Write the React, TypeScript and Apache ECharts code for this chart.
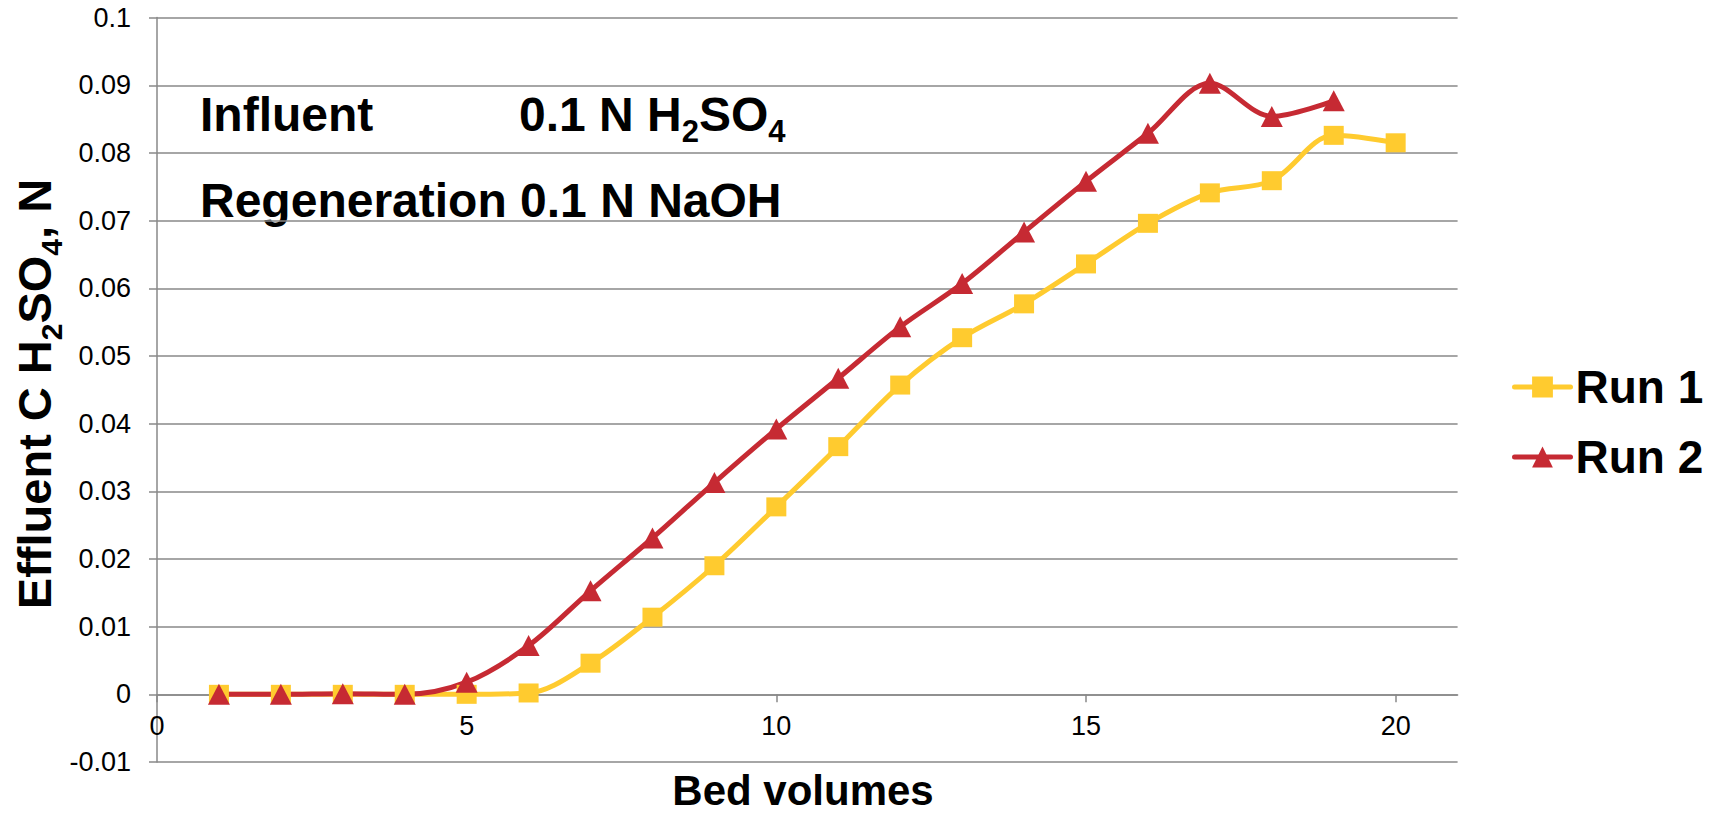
import React, { useEffect, useRef } from 'react';
import * as echarts from 'echarts';

const bedVolumes = [1, 2, 3, 4, 5, 6, 7, 8, 9, 10, 11, 12, 13, 14, 15, 16, 17, 18, 19, 20];
const run1 = [0, 0, 0, 0, 0, 0.0002, 0.0046, 0.0114, 0.019, 0.0277, 0.0366, 0.0457, 0.0527, 0.0577, 0.0636, 0.0696, 0.0741, 0.0759, 0.0826, 0.0815];
const run2 = [0, 0, 0.0001, 0, 0.0018, 0.0072, 0.0153, 0.0231, 0.0313, 0.0392, 0.0467, 0.0543, 0.0607, 0.0683, 0.0758, 0.0829, 0.0903, 0.0854, 0.0877];
const seriesNames = ['Run 1', 'Run 2'];
const xTickValues = [0, 5, 10, 15, 20];
const xAxisTitle = 'Bed volumes';
const yAxisTitle = 'Effluent C H{s|2}SO{s|4}, N';
const noteLabel1 = 'Influent';
const noteValue1 = '0.1 N H{n|2}SO{n|4}';
const noteLine2 = 'Regeneration 0.1 N NaOH';

const FONT = '"Liberation Sans", Arial, sans-serif';
const GRID_GRAY = '#898989';
const YELLOW = '#FFCB2F';
const RED = '#C62A33';

export default function App() {
  const ref = useRef<HTMLDivElement>(null);

  useEffect(() => {
    if (!ref.current) return;
    const chart = echarts.init(ref.current, null, { renderer: 'svg' });
    const subRich = {
      s: { font: `bold 30px ${FONT}`, fill: '#000', lineHeight: 30, verticalAlign: 'bottom' },
      n: { font: `bold 31px ${FONT}`, fill: '#000', lineHeight: 31, verticalAlign: 'bottom' },
    };
    chart.setOption({
      animation: false,
      backgroundColor: '#fff',
      grid: { left: 157, right: 265.4, top: 17.6, bottom: 53, outerBoundsMode: 'none', containLabel: false },
      xAxis: {
        type: 'value',
        min: 0,
        max: 21,
        interval: 5,
        axisLine: { show: true, onZero: true, lineStyle: { color: GRID_GRAY, width: 1.5 } },
        axisTick: { show: true, inside: false, length: 8, customValues: xTickValues, lineStyle: { color: GRID_GRAY, width: 1.5 } },
        axisLabel: { customValues: xTickValues, margin: -50, fontSize: 27, fontFamily: FONT, color: '#000' },
        splitLine: { show: false },
      },
      yAxis: {
        type: 'value',
        min: -0.01,
        max: 0.1,
        interval: 0.01,
        axisLine: { show: true, onZero: false, lineStyle: { color: GRID_GRAY, width: 1.5 } },
        axisTick: { show: true, inside: false, length: 8, lineStyle: { color: GRID_GRAY, width: 1.5 } },
        axisLabel: { margin: 26, fontSize: 27, fontFamily: FONT, color: '#000' },
        splitLine: { show: true, lineStyle: { color: GRID_GRAY, width: 1.5 } },
      },
      legend: {
        orient: 'vertical',
        left: 1507,
        top: 357,
        itemWidth: 56,
        itemHeight: 26,
        itemGap: 20,
        data: seriesNames,
        lineStyle: { width: 5, cap: 'round' },
        textStyle: { fontSize: 46, fontWeight: 'bold', fontFamily: FONT, color: '#000', lineHeight: 50 },
      },
      series: [
        {
          name: seriesNames[0],
          type: 'line',
          data: bedVolumes.map((x, i) => [x, run1[i]]),
          smooth: 0.33,
          symbol: 'rect',
          symbolSize: [20, 19],
          lineStyle: { color: YELLOW, width: 5, cap: 'round' },
          itemStyle: { color: YELLOW },
        },
        {
          name: seriesNames[1],
          type: 'line',
          data: run2.map((v, i) => [bedVolumes[i], v]),
          smooth: 0.33,
          symbol: 'triangle',
          symbolSize: [22, 21],
          lineStyle: { color: RED, width: 5, cap: 'round' },
          itemStyle: { color: RED },
        },
      ],
      graphic: [
        {
          type: 'text',
          x: 200,
          y: 114,
          style: { text: noteLabel1, font: `bold 48px ${FONT}`, fill: '#000', verticalAlign: 'middle', align: 'left' },
        },
        {
          type: 'text',
          x: 519,
          y: 114,
          style: {
            text: noteValue1,
            font: `bold 48px ${FONT}`,
            fill: '#000',
            lineHeight: 66,
            verticalAlign: 'middle',
            align: 'left',
            rich: subRich,
          },
        },
        {
          type: 'text',
          x: 200,
          y: 200,
          style: { text: noteLine2, font: `bold 48px ${FONT}`, fill: '#000', verticalAlign: 'middle', align: 'left' },
        },
        {
          type: 'text',
          x: 803,
          y: 790,
          style: { text: xAxisTitle, font: `bold 42px ${FONT}`, fill: '#000', lineHeight: 36, verticalAlign: 'middle', align: 'center' },
        },
        {
          type: 'text',
          x: 34,
          y: 394,
          rotation: Math.PI / 2,
          style: {
            text: yAxisTitle,
            font: `bold 47px ${FONT}`,
            fill: '#000',
            lineHeight: 64,
            verticalAlign: 'middle',
            align: 'center',
            rich: subRich,
          },
        },
      ],
    });
    return () => chart.dispose();
  }, []);

  return (
    <div
      ref={ref}
      style={{ position: 'fixed', left: 0, top: 0, width: 1723, height: 815, background: '#fff' }}
    />
  );
}
